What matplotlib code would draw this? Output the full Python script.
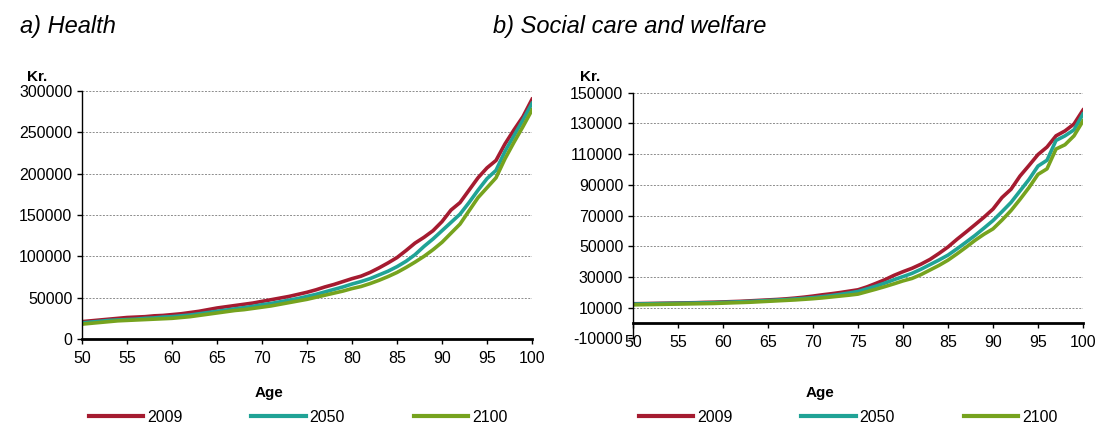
import matplotlib
matplotlib.use('Agg')
import matplotlib.pyplot as plt

plt.rcParams['font.family'] = ['Liberation Sans', 'DejaVu Sans']
plt.rcParams['axes.unicode_minus'] = False

ages = list(range(50, 101))
years = ['2009', '2050', '2100']
colors = ['#A51B30', '#20A396', '#76A31E']

# a) Health, kr. per person by age
health_2009 = [21000, 22000, 23000, 24000, 25000, 26000, 26500, 27000, 28000, 28500,
               29500, 30500, 32000, 33500, 35500, 37500, 39000, 40500, 42000, 43500,
               45500, 47500, 49500, 51500, 54000, 56500, 59500, 63000, 66000, 69500,
               73000, 76000, 80500, 86000, 92000, 98500, 107000, 116000, 123000, 131000,
               142000, 156000, 165000, 180000, 195000, 207000, 216000, 236000, 253000, 269000,
               290000]
health_2050 = [19500, 20500, 21500, 22500, 23000, 23500, 24000, 25000, 25500, 26500,
               27000, 28000, 29000, 30500, 32000, 33500, 35000, 36500, 38000, 39500,
               41500, 43000, 45000, 47000, 49000, 51500, 54000, 57000, 60000, 63000,
               66500, 69500, 73000, 77500, 82000, 87500, 94000, 102000, 112000, 121000,
               131000, 141000, 151000, 165000, 180000, 194000, 204000, 227000, 246000, 265000,
               285000]
health_2100 = [18000, 19000, 20000, 21000, 22000, 22500, 23000, 23500, 24000, 24500,
               25000, 26000, 27000, 28500, 30000, 31500, 33000, 34500, 35500, 37000,
               38500, 40000, 42000, 44000, 46000, 48000, 50500, 53000, 55500, 58000,
               61000, 63500, 67000, 71000, 75500, 80500, 86500, 93000, 100000, 108000,
               117000, 128000, 139000, 155000, 171000, 183000, 195000, 218000, 238000, 257000,
               277000]

# b) Social care and welfare
care_2009 = [12500, 12600, 12700, 12800, 12900, 13000, 13100, 13200, 13400, 13500,
             13700, 13900, 14100, 14400, 14700, 15000, 15300, 15700, 16200, 16800,
             17500, 18300, 19000, 19800, 20700, 21600, 23500, 25800, 28200, 31000,
             33400, 35600, 38300, 41400, 45300, 49500, 54500, 59200, 64000, 68900,
             74200, 81700, 87100, 95700, 102600, 109700, 114600, 121900, 125100, 129600,
             138700]
care_2050 = [12300, 12400, 12500, 12600, 12700, 12800, 12900, 13000, 13100, 13200,
             13400, 13600, 13800, 14000, 14300, 14600, 14900, 15200, 15600, 16000,
             16500, 17100, 17800, 18600, 19500, 20500, 22200, 24000, 26000, 28200,
             30200, 32300, 35000, 38000, 41000, 44200, 48300, 52600, 57000, 61800,
             66700, 72500, 78500, 86000, 93500, 102200, 106000, 118900, 121900, 125800,
             136100]
care_2100 = [11800, 11900, 12000, 12100, 12200, 12300, 12400, 12500, 12600, 12700,
             12900, 13100, 13300, 13500, 13800, 14100, 14400, 14700, 15000, 15400,
             15800, 16300, 16900, 17500, 18100, 18800, 20400, 22000, 23700, 25500,
             27400, 29000, 31500, 34500, 37500, 40900, 45000, 49300, 53800, 57800,
             61300, 67000, 73200, 80500, 88200, 96800, 100400, 113300, 116100, 121900,
             131600]

fig = plt.figure(figsize=(10.98, 4.23), dpi=100)
ax1 = fig.add_axes([82/1098, 84/423, 450/1098, 248/423])
ax2 = fig.add_axes([633/1098, 84.7/423, 450/1098, 245.6/423])


def style(ax, ylim, yticks):
    ax.set_xlim(50, 100)
    ax.set_ylim(*ylim)
    ax.set_xticks(range(50, 101, 5))
    ax.set_yticks(yticks)
    ax.yaxis.grid(True, color='#8c8c8c', linestyle=(0, (2, 1.5)), linewidth=0.7)
    ax.set_axisbelow(True)
    for s in ['top', 'right']:
        ax.spines[s].set_visible(False)
    ax.spines['left'].set_linewidth(1.0)
    ax.spines['bottom'].set_linewidth(2.0)
    ax.spines['bottom'].set_position(('data', 0))
    ax.tick_params(axis='both', labelsize=11.5, length=3.5, width=1, direction='out')
    ax.tick_params(axis='y', pad=3.5)
    ax.tick_params(axis='x', pad=5)


for ax, series, ylim, yticks in [
        (ax1, [health_2009, health_2050, health_2100], (0, 300000), range(0, 300001, 50000)),
        (ax2, [care_2009, care_2050, care_2100], (-10000, 150000), range(-10000, 150001, 20000))]:
    style(ax, ylim, yticks)
    for vals, c, lab in zip(series, colors, years):
        ax.plot(ages, vals, color=c, lw=2.6, label=lab, solid_joinstyle='round')

fig.text(20/1098, 1 - 27/423, 'a) Health', fontsize=17, style='italic', va='center')
fig.text(493/1098, 1 - 27/423, 'b) Social care and welfare', fontsize=17, style='italic', va='center')
fig.text(37.5/1098, 1 - 77/423, 'Kr.', fontsize=11, weight='bold', ha='center', va='center')
fig.text(590/1098, 1 - 77/423, 'Kr.', fontsize=11, weight='bold', ha='center', va='center')
fig.text(269/1098, 1 - 393/423, 'Age', fontsize=11, weight='bold', ha='center', va='center')
fig.text(820/1098, 1 - 393/423, 'Age', fontsize=11, weight='bold', ha='center', va='center')

for ax, x0 in [(ax1, 89), (ax2, 639)]:
    ax.legend(loc='center left', bbox_to_anchor=(x0/1098, 1 - 417/423), bbox_transform=fig.transFigure,
              ncol=3, frameon=False, fontsize=11.5, handlelength=3.4, handletextpad=0.25,
              columnspacing=4.3, borderpad=0, borderaxespad=0)
    for lh in ax.get_legend().get_lines():
        lh.set_linewidth(3)

fig.savefig('out.png', dpi=100)
